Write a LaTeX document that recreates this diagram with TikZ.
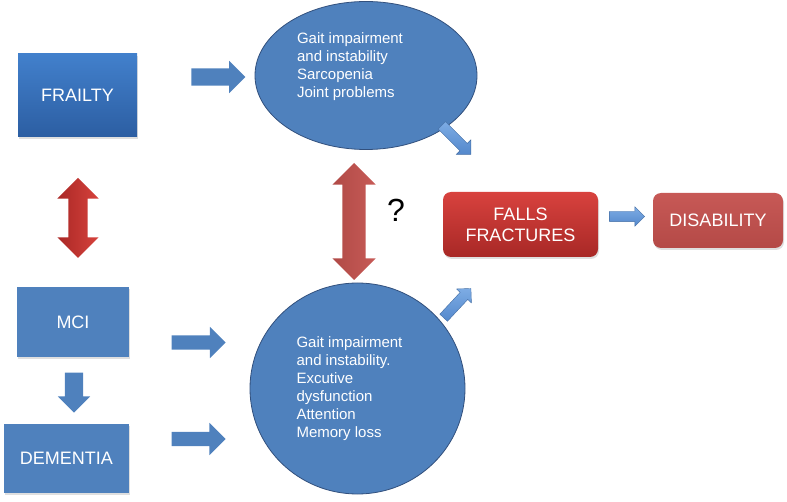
\documentclass[tikz,border=0pt]{standalone}
\usepackage{fontspec}
\setmainfont{Liberation Sans}
\usepackage{tikz}
\usetikzlibrary{shapes.geometric, shapes.arrows, shadows, positioning, calc}

\definecolor{boxblue}{RGB}{79,129,189}
\definecolor{boxbluetop}{RGB}{66,128,204}
\definecolor{boxbluebot}{RGB}{44,94,162}
\definecolor{edgeblue}{RGB}{50,80,125}
\definecolor{falltop}{RGB}{216,66,62}
\definecolor{fallbot}{RGB}{168,40,38}
\definecolor{disred}{RGB}{196,80,77}
\definecolor{dblredtop}{RGB}{214,66,60}
\definecolor{dblredbot}{RGB}{170,40,38}
\definecolor{midred}{RGB}{196,82,78}
\definecolor{litebluetop}{RGB}{125,172,228}
\definecolor{litebluebot}{RGB}{84,136,204}

\begin{document}
\begin{tikzpicture}[
        x=1pt, y=-1pt,
        every node/.style={text=white, font=\fontsize{18}{21}\selectfont},
        bluebox/.style={rectangle, fill=boxblue, drop shadow={shadow xshift=1pt, shadow yshift=-2pt, opacity=0.25}},
        redbox/.style={rectangle, rounded corners=8pt, drop shadow={shadow xshift=1pt, shadow yshift=-2pt, opacity=0.25}},
        blob/.style={ellipse, fill=boxblue, draw=edgeblue, line width=0.8pt},
        blobtext/.style={align=left, font=\fontsize{15}{18}\selectfont},
        fatarrow/.style={single arrow, fill=boxblue, inner xsep=0pt, minimum width=0pt},
        thinarrow/.style={single arrow, top color=litebluetop, bottom color=litebluebot, draw=litebluebot!80!black, line width=0.4pt, inner xsep=0pt, minimum width=0pt},
        twoway/.style={double arrow, inner xsep=0pt, minimum width=0pt, rotate=90}
      ]
        \useasboundingbox (0,0) rectangle (787,502);

        % Left column
        \node (frailty) [bluebox, top color=boxbluetop, bottom color=boxbluebot, minimum width=119pt, minimum height=83pt] at (77.5,95.5) {FRAILTY};
        \node (mci) [bluebox, minimum width=112pt, minimum height=70pt] at (73,322) {MCI};
        \node (dementia) [bluebox, minimum width=125pt, minimum height=69pt] at (66.5,458.5) {DEMENTIA};

        % Middle ellipses
        \node (gaitA) [blob, minimum width=222pt, minimum height=148pt] at (366,75.5) {};
        \node (gaitAtext) [blobtext] at ($(gaitA)+(-16,-9)$) {Gait impairment\\and instability\\Sarcopenia\\Joint problems};
        \node (gaitB) [blob, minimum width=215pt, minimum height=211pt] at (357.5,388.5) {};
        \node (gaitBtext) [blobtext] at ($(gaitB)+(-8,0)$) {Gait impairment\\and instability.\\Excutive\\dysfunction\\Attention\\Memory loss};

        % Outcomes
        \node (falls) [redbox, top color=falltop, bottom color=fallbot, minimum width=155pt, minimum height=65pt, align=center] at (520.5,224.5) {FALLS\\FRACTURES};
        \node (disability) [redbox, top color=disred!95!white, bottom color=disred!92!black, minimum width=130pt, minimum height=55pt] at (718,220.5) {DISABILITY};

        % Block arrows
        \node (frailtyArrow) [fatarrow, inner ysep=8.5pt, single arrow head extend=7.5pt, minimum height=54pt] at (214,77) {};
        \node (mciArrow) [fatarrow, inner ysep=7pt, single arrow head extend=8.5pt, minimum height=54pt] at (195,342.5) {};
        \node (dementiaArrow) [fatarrow, inner ysep=7pt, single arrow head extend=9pt, minimum height=54pt] at (195,439) {};
        \node (mciDown) [fatarrow, inner ysep=9pt, single arrow head extend=7pt, minimum height=40pt, rotate=-90] at (74,388) {};

        \node (topSmall) [thinarrow, inner ysep=5pt, single arrow head extend=5pt, minimum height=41pt, rotate=-45] at (454.5,138) {};
        \node (botSmall) [thinarrow, inner ysep=5pt, single arrow head extend=5pt, minimum height=40pt, rotate=47] at (455.5,305) {};
        \node (fallsArrow) [thinarrow, inner ysep=5pt, single arrow head extend=4.5pt, minimum height=35pt] at (624.5,216.5) {};

        % Two-way arrows
        \node (frailtyMci) [twoway, right color=dblredtop, left color=dblredbot, inner ysep=9.5pt, double arrow head extend=11pt, minimum height=80pt] at (78,218) {};
        \node (gaitLink) [twoway, right color=midred!95!white, left color=midred!90!black, inner ysep=11.5pt, double arrow head extend=10pt, minimum height=117pt] at (354,221.5) {};
        \node (unknown) [text=black, font=\fontsize{32}{36}\selectfont] at (396,210) {?};
      \end{tikzpicture}
\end{document}
